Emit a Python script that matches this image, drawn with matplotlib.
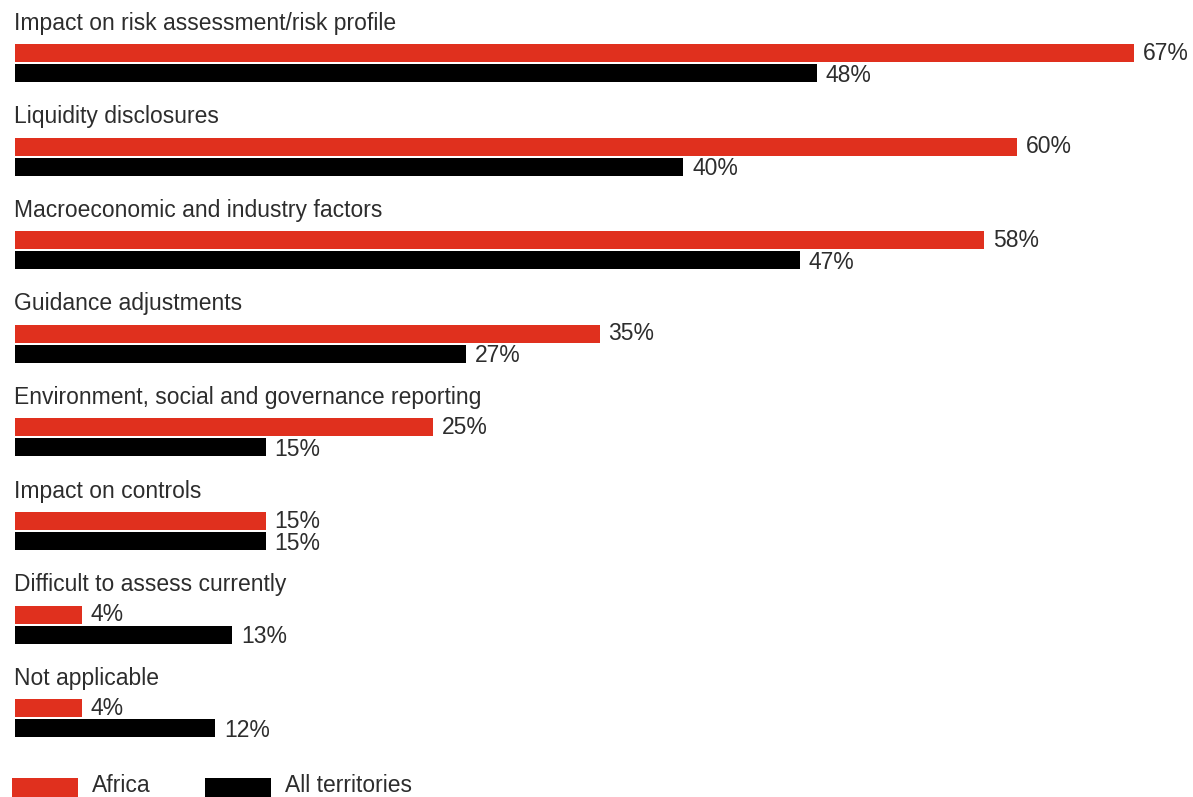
import matplotlib
matplotlib.use("Agg")
import matplotlib.pyplot as plt
from matplotlib.patches import Rectangle

categories = [
    "Impact on risk assessment/risk profile",
    "Liquidity disclosures",
    "Macroeconomic and industry factors",
    "Guidance adjustments",
    "Environment, social and governance reporting",
    "Impact on controls",
    "Difficult to assess currently",
    "Not applicable",
]
africa = [67, 60, 58, 35, 25, 15, 4, 4]
all_territories = [48, 40, 47, 27, 15, 15, 13, 12]
series_names = ["Africa", "All territories"]

RED = "#E0301E"
BLACK = "#000000"
TEXT = "#2d2d2d"
FONT = "Liberation Sans"
FS = 16.5

W, H = 1193, 797
fig = plt.figure(figsize=(W / 100, H / 100), dpi=100)
# x in percent, y in pixel rows (top = 0)
px_per_pct = (1134 - 15) / 67.0
ax = fig.add_axes([15 / W, 0, 1 - 15 / W, 1])
ax.set_xlim(0, (W - 15) / px_per_pct)
ax.set_ylim(H, 0)
ax.axis("off")

step = 93.6
bar_h = 18
for i, cat in enumerate(categories):
    top = 44 + step * i
    y_red = top + bar_h / 2
    y_blk = top + 20 + bar_h / 2
    ax.text(-1 / px_per_pct, top - 21, cat, fontsize=FS, color=TEXT,
            family=FONT, va="center", ha="left")
    ax.barh(y_red, africa[i], height=bar_h, color=RED, left=0)
    ax.barh(y_blk, all_territories[i], height=bar_h, color=BLACK, left=0)
    ax.text(africa[i] + 9 / px_per_pct, y_red, f"{africa[i]}%", fontsize=FS,
            color=TEXT, family=FONT, va="center", ha="left")
    ax.text(all_territories[i] + 9 / px_per_pct, y_blk + 2, f"{all_territories[i]}%",
            fontsize=FS, color=TEXT, family=FONT, va="center", ha="left")

# legend along the bottom edge
for x0, color, name in [(12, RED, series_names[0]), (205, BLACK, series_names[1])]:
    fig.patches.append(Rectangle((x0 / W, 0), 66 / W, 19 / H, transform=fig.transFigure,
                                 facecolor=color, edgecolor="none"))
    fig.text((x0 + 80) / W, 0.5 / H, name, fontsize=FS, color=TEXT,
             family=FONT, va="bottom", ha="left")

fig.savefig("out.png", dpi=100, facecolor="white")
